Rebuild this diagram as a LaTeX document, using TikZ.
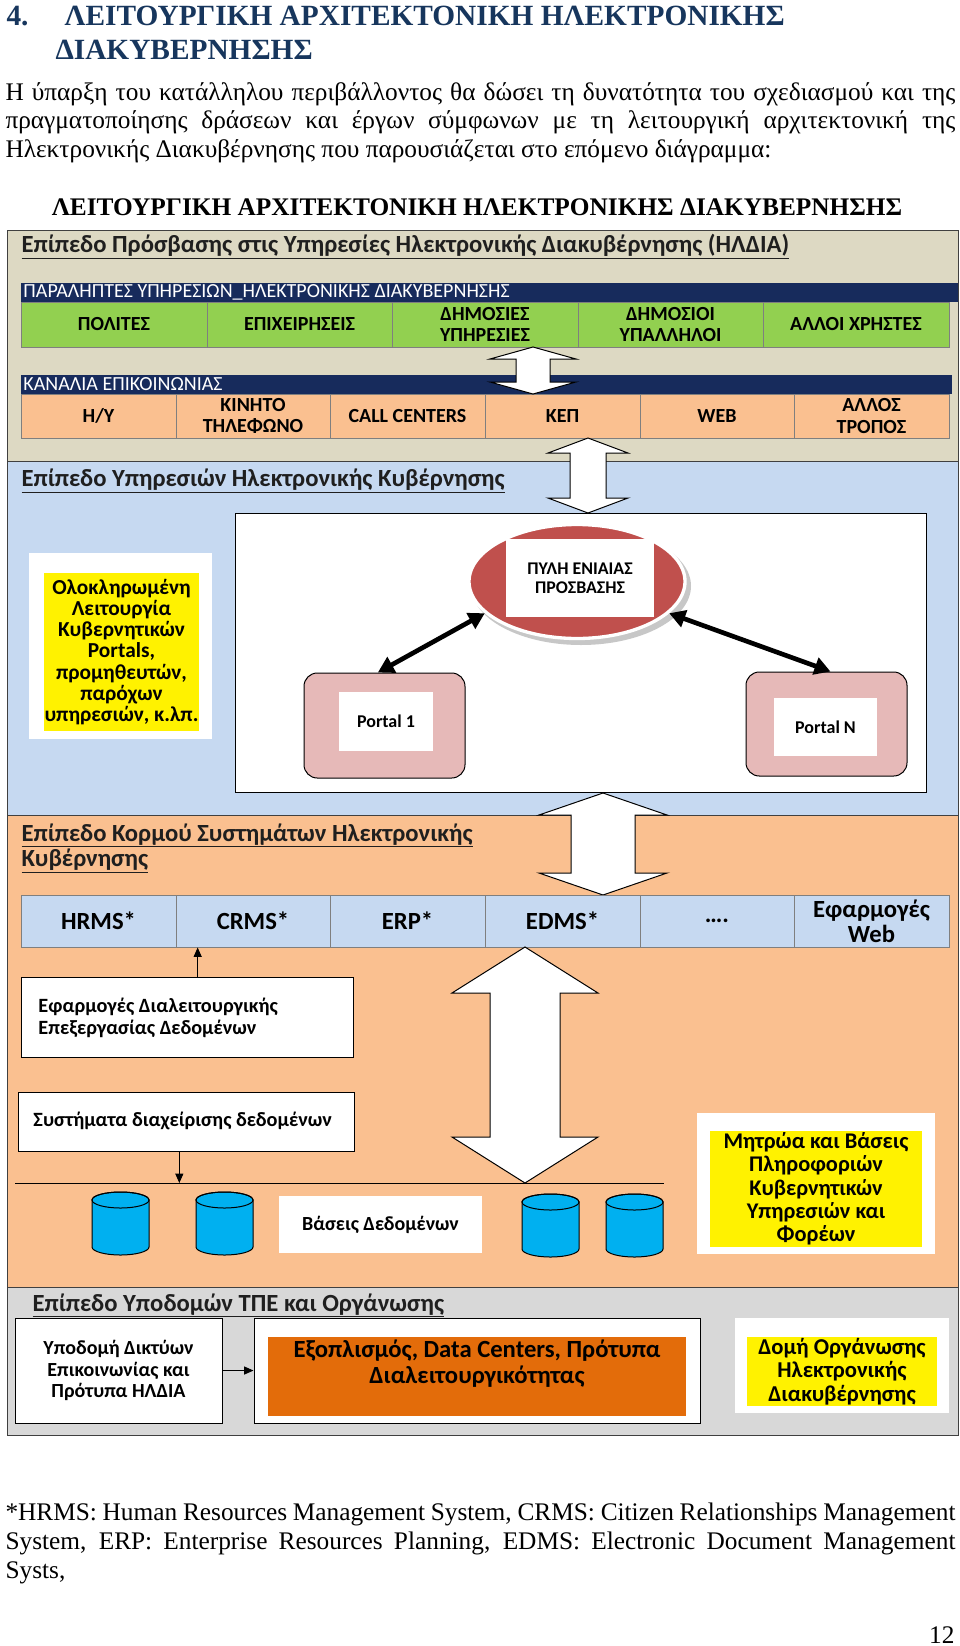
\documentclass[tikz,border=0pt]{standalone}
\usepackage{fontspec}
\setmainfont{Liberation Serif}
\newfontfamily\calfont{Carlito}
\usetikzlibrary{arrows.meta,fit,shapes.geometric}

\definecolor{titlenavy}{RGB}{23,54,93}
\definecolor{barnavy}{RGB}{23,43,92}
\definecolor{accessbg}{RGB}{221,217,195}
\definecolor{servicebg}{RGB}{198,217,241}
\definecolor{corebg}{RGB}{250,192,144}
\definecolor{infrabg}{RGB}{216,216,216}
\definecolor{usergreen}{RGB}{146,208,80}
\definecolor{gatered}{RGB}{192,80,77}
\definecolor{portalpink}{RGB}{230,185,184}
\definecolor{dbblue}{RGB}{0,176,240}
\definecolor{equiporange}{RGB}{227,108,10}
\definecolor{cellgray}{RGB}{127,127,127}
\definecolor{edgegray}{RGB}{64,64,64}

\newcommand\fsz[2]{\fontsize{#1}{#2}\selectfont}
% block double arrow: top tip, length, half shaft, half head, head length
\newcommand\blockarrow[5]{\draw[blockarrow] (#1) -- ++(#4,#5) -- ++({-(#4-#3)},0) -- ++(0,{#2-2*#5}) -- ++({#4-#3},0) -- ++(-#4,#5) -- ++(-#4,-#5) -- ++({#4-#3},0) -- ++(0,{-(#2-2*#5)}) -- ++({-(#4-#3)},0) -- cycle;}
% database cylinder, top left corner
\newcommand\dbcylinder[1]{\begin{scope}[shift={#1}]
  \filldraw[fill=dbblue, draw=black] (0,8) -- (0,55) arc[start angle=180, end angle=0, x radius=28.5, y radius=8] -- (57,8) arc[start angle=0, end angle=-180, x radius=28.5, y radius=8] -- cycle;
  \draw (28.5,8) ellipse [x radius=28.5, y radius=8];
\end{scope}}

\tikzset{every picture/.style={line width=0.75pt},
  titletext/.style={anchor=base west, inner sep=0pt, text=titlenavy, font=\bfseries\fsz{22}{26}},
  bodytext/.style={anchor=base west, inner sep=0pt, font=\fsz{19}{22}},
  notetext/.style={anchor=base west, inner sep=0pt, font=\fsz{19}{22}},
  levelbox/.style={draw=edgegray, inner sep=0pt},
  headtext/.style={anchor=base west, inner sep=0pt, text=black!88, font=\calfont\bfseries\fsz{18.5}{20}},
  navybar/.style={fill=barnavy, inner sep=0pt},
  bartext/.style={anchor=west, inner sep=0pt, text=white, font=\calfont\fsz{15}{16}},
  usercell/.style={fill=usergreen, draw=cellgray, inner sep=0pt},
  chancell/.style={fill=corebg, draw=cellgray, inner sep=0pt},
  corecell/.style={fill=servicebg, draw=cellgray, inner sep=0pt},
  celltext/.style={inner sep=0pt, align=center, font=\calfont\bfseries\fsz{15}{16}},
  coretext/.style={inner sep=0pt, align=center, font=\calfont\bfseries\fsz{18.5}{18.8}},
  plainbox/.style={draw=black, fill=white, inner sep=0pt},
  framebox/.style={fill=white, inner sep=0pt},
  boxtext/.style={inner sep=0pt, align=left, font=\calfont\bfseries\fsz{15.2}{16.5}},
  yellowbox/.style={fill=yellow, inner sep=0pt},
  yellowtext/.style={inner sep=0pt, align=center, font=\calfont\bfseries\fsz{17}{17.6}},
  portalbox/.style={fill=portalpink, draw=black, rounded corners=10pt, inner sep=0pt},
  blockarrow/.style={draw=black, fill=white, line join=miter},
  thickarrow/.style={line width=3.5pt, {Triangle[length=12pt,width=13pt]}-{Triangle[length=12pt,width=13pt]}},
  smallarrow/.style={-{Triangle[length=7pt,width=6pt]}}
}

\begin{document}
\begin{tikzpicture}[x=0.75pt,y=0.75pt,yscale=-1,xscale=1]
\useasboundingbox (0,0) rectangle (960,1646);

% Section title
\draw (6,25) node[titletext] (secnum) {4.};
\draw (64,25) node[titletext] (titlea) {ΛΕΙΤΟΥΡΓΙΚΗ ΑΡΧΙΤΕΚΤΟΝΙΚΗ ΗΛΕΚΤΡΟΝΙΚΗΣ};
\draw (55,59) node[titletext] (titleb) {ΔΙΑΚΥΒΕΡΝΗΣΗΣ};

% Intro paragraph
\draw (5,100) node[bodytext] (introa) {\makebox[712.5pt][s]{Η ύπαρξη του κατάλληλου περιβάλλοντος θα δώσει τη δυνατότητα του σχεδιασμού και της}};
\draw (5,128.5) node[bodytext] (introb) {\makebox[712.5pt][s]{πραγματοποίησης δράσεων και έργων σύμφωνων με τη λειτουργική αρχιτεκτονική της}};
\draw (5,157) node[bodytext] (introc) {Ηλεκτρονικής Διακυβέρνησης που παρουσιάζεται στο επόμενο διάγραμμα:};

% Diagram caption
\draw (477,215) node[anchor=base, inner sep=0pt, font=\bfseries\fsz{19}{23}] (caption) {ΛΕΙΤΟΥΡΓΙΚΗ ΑΡΧΙΤΕΚΤΟΝΙΚΗ ΗΛΕΚΤΡΟΝΙΚΗΣ ΔΙΑΚΥΒΕΡΝΗΣΗΣ};

% Levels
\node[levelbox, fill=accessbg, fit={(7,230) (958,461)}] (access) {};
\node[levelbox, fill=servicebg, fit={(7,461) (958,815)}] (services) {};
\node[levelbox, fill=corebg, fit={(7,815) (958,1287)}] (core) {};
\node[levelbox, fill=infrabg, fit={(7,1287) (958,1435)}] (infra) {};

%% Level 1: access
\draw (21,252) node[headtext] (accesshead) {\underline{Επίπεδο Πρόσβασης στις Υπηρεσίες Ηλεκτρονικής Διακυβέρνησης (ΗΛΔΙΑ)}};

\node[navybar, fit={(21,283) (958,302)}] (usersbar) {};
\draw (23,292.5) node[bartext] (userslabel) {ΠΑΡΑΛΗΠΤΕΣ ΥΠΗΡΕΣΙΩΝ\_ΗΛΕΚΤΡΟΝΙΚΗΣ ΔΙΑΚΥΒΕΡΝΗΣΗΣ};
\node[usercell, fit={(21,302) (207,347)}, label={[celltext]center:ΠΟΛΙΤΕΣ}] (citizens) {};
\node[usercell, fit={(207,302) (392,347)}, label={[celltext]center:ΕΠΙΧΕΙΡΗΣΕΙΣ}] (business) {};
\node[usercell, fit={(392,302) (578,347)}, label={[celltext]center:{ΔΗΜΟΣΙΕΣ\\ΥΠΗΡΕΣΙΕΣ}}] (pubserv) {};
\node[usercell, fit={(578,302) (763,347)}, label={[celltext]center:{ΔΗΜΟΣΙΟΙ\\ΥΠΑΛΛΗΛΟΙ}}] (civilserv) {};
\node[usercell, fit={(763,302) (949,347)}, label={[celltext]center:ΑΛΛΟΙ ΧΡΗΣΤΕΣ}] (otherusers) {};

\node[navybar, fit={(21,375) (952,394)}] (chanbar) {};
\draw (23,384.5) node[bartext] (chanlabel) {ΚΑΝΑΛΙΑ ΕΠΙΚΟΙΝΩΝΙΑΣ};
\node[chancell, fit={(21,394) (176,438)}, label={[celltext]center:Η/Υ}] (pc) {};
\node[chancell, fit={(176,394) (330,438)}, label={[celltext]center:{ΚΙΝΗΤΟ\\ΤΗΛΕΦΩΝΟ}}] (mobile) {};
\node[chancell, fit={(330,394) (485,438)}, label={[celltext]center:CALL CENTERS}] (callcenters) {};
\node[chancell, fit={(485,394) (640,438)}, label={[celltext]center:ΚΕΠ}] (kep) {};
\node[chancell, fit={(640,394) (794,438)}, label={[celltext]center:WEB}] (webchannel) {};
\node[chancell, fit={(794,394) (949,438)}, label={[celltext]center:{ΑΛΛΟΣ\\ΤΡΟΠΟΣ}}] (otherchannel) {};

\coordinate (tipa) at (533,347);
\blockarrow{tipa}{47}{17}{43}{12}

%% Level 2: services
\draw (21,486) node[headtext] (serviceshead) {\underline{Επίπεδο Υπηρεσιών Ηλεκτρονικής Κυβέρνησης}};

\node[framebox, fit={(29,553) (212,739)}] (govframe) {};
\node[yellowbox, fit={(44,573) (199,731)}, label={[yellowtext, font=\calfont\bfseries\fsz{16}{15.8}]center:{Ολοκληρωμένη\\Λειτουργία\\Κυβερνητικών\\Portals,\\προμηθευτών,\\παρόχων\\υπηρεσιών, κ.λπ.}}] (govnote) {};

\node[plainbox, fit={(235,513) (926,792)}] (portalarea) {};
\coordinate (tipb) at (588,438);
\blockarrow{tipb}{75}{18}{40}{15}

\fill[black!22] (581,586) ellipse [x radius=110, y radius=59];
\draw (577,581.5) node[ellipse, fill=gatered, draw=white, line width=2.5pt, minimum width=162pt, minimum height=85.5pt, inner sep=0pt] (gate) {};
\node[framebox, fit={(506,539) (654,617)}, label={[celltext, font=\calfont\bfseries\fsz{13.4}{14.5}]center:{ΠΥΛΗ ΕΝΙΑΙΑΣ\\ΠΡΟΣΒΑΣΗΣ}}] (gatelabel) {};

\node[portalbox, fit={(304,673) (465,778)}] (portalone) {};
\node[framebox, fit={(339,692) (433,751)}, label={[celltext, font=\calfont\bfseries\fsz{13.5}{15}]center:Portal 1}] (portalonetext) {};
\node[portalbox, fit={(746,672) (907,776)}] (portaln) {};
\node[framebox, fit={(774,698) (877,756)}, label={[celltext, font=\calfont\bfseries\fsz{13.5}{15}]center:Portal N}] (portalntext) {};

\draw[thickarrow] (gate.199) -- ([xshift=-5pt]portalone.north);
\draw[thickarrow] (gate.341) -- ([xshift=3pt]portaln.north);

%% Level 3: core systems
\coordinate (tipc) at (603,793);
\blockarrow{tipc}{102}{32}{64}{22}

\draw (21,841) node[headtext] (corehead) {\underline{Επίπεδο Κορμού Συστημάτων Ηλεκτρονικής}};
\draw (21,866) node[headtext] (coreheadb) {\underline{Κυβέρνησης}};

\node[corecell, fit={(21,895) (176,947)}, label={[coretext]center:HRMS*}] (hrms) {};
\node[corecell, fit={(176,895) (330,947)}, label={[coretext]center:CRMS*}] (crms) {};
\node[corecell, fit={(330,895) (485,947)}, label={[coretext]center:ERP*}] (erp) {};
\node[corecell, fit={(485,895) (640,947)}, label={[coretext]center:EDMS*}] (edms) {};
\node[corecell, fit={(640,895) (794,947)}, label={[coretext]center:….}] (moreapps) {};
\node[corecell, fit={(794,895) (949,947)}, label={[coretext]center:{Εφαρμογές\\Web}}] (webapps) {};

\node[plainbox, fit={(21,977) (353,1057)}] (interop) {};
\draw (38,1018) node[boxtext, anchor=west] (interoptext) {Εφαρμογές Διαλειτουργικής\\Επεξεργασίας Δεδομένων};
\coordinate (interoptop) at ([xshift=8pt]interop.north);
\draw[smallarrow] (interoptop) -- (interoptop |- crms.south);

\node[plainbox, fit={(18,1092) (354,1151)}] (dbms) {};
\draw (33,1121) node[boxtext, anchor=west] (dbmstext) {Συστήματα διαχείρισης δεδομένων};

\coordinate (busleft) at (15,1183);
\coordinate (busright) at (664,1183);
\draw (busleft) -- (busright);
\coordinate (dbmsout) at ([xshift=-5pt]dbms.south);
\draw[smallarrow] (dbmsout) -- (dbmsout |- busleft);

\coordinate (tipd) at (525,947);
\blockarrow{tipd}{236}{35}{73}{46}

\dbcylinder{(92,1192)}
\dbcylinder{(196,1192)}
\dbcylinder{(522,1194)}
\dbcylinder{(606,1194)}
\node[framebox, fit={(279,1196) (482,1253)}, label={[celltext]center:Βάσεις Δεδομένων}] (dblabel) {};

\node[framebox, fit={(697,1113) (935,1254)}] (regframe) {};
\node[yellowbox, fit={(710,1131) (922,1247)}, label={[yellowtext, font=\calfont\bfseries\fsz{16.8}{17.5}]center:{Μητρώα και Βάσεις\\Πληροφοριών\\Κυβερνητικών\\Υπηρεσιών και\\Φορέων}}] (registries) {};

%% Level 4: infrastructure
\draw (32,1311) node[headtext] (infrahead) {\underline{Επίπεδο Υποδομών ΤΠΕ και Οργάνωσης}};

\node[plainbox, fit={(15,1318) (222,1423)}, label={[celltext, font=\calfont\bfseries\fsz{15}{16}]center:{Υποδομή Δικτύων\\Επικοινωνίας και\\Πρότυπα ΗΛΔΙΑ}}] (network) {};
\node[plainbox, fit={(254,1318) (700,1423)}] (equipframe) {};
\node[fill=equiporange, inner sep=0pt, fit={(268,1337) (686,1416)}] (equip) {};
\draw (477,1339) node[anchor=north, inner sep=0pt, align=center, font=\calfont\bfseries\fsz{18.5}{19.6}] (equiptext) {Εξοπλισμός, Data Centers, Πρότυπα\\Διαλειτουργικότητας};
\draw[smallarrow] (network) -- (equipframe);

\node[framebox, fit={(735,1318) (949,1413)}] (orgframe) {};
\node[yellowbox, fit={(747,1337) (937,1406)}, label={[yellowtext, font=\calfont\bfseries\fsz{17}{17.7}]center:{Δομή Οργάνωσης\\Ηλεκτρονικής\\Διακυβέρνησης}}] (organisation) {};

% Footnote
\draw (5,1520) node[notetext] (notea) {\makebox[712.5pt][s]{*HRMS: Human Resources Management System, CRMS: Citizen Relationships Management}};
\draw (5,1549) node[notetext] (noteb) {\makebox[712.5pt][s]{System, ERP: Enterprise Resources Planning, EDMS: Electronic Document Management}};
\draw (5,1578) node[notetext] (notec) {Systs,};

\draw (955,1643) node[anchor=base east, inner sep=0pt, font=\fsz{19}{22}] (pagenum) {12};

\end{tikzpicture}
\end{document}
